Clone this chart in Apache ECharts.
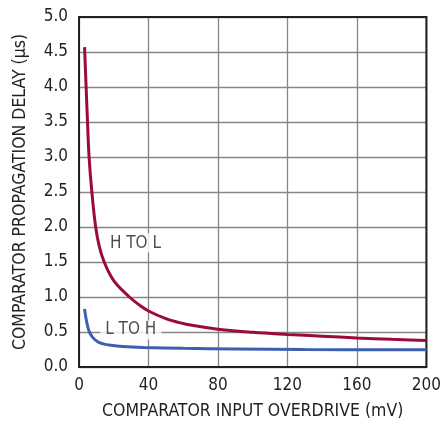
<!DOCTYPE html>
<html>
<head>
<meta charset="utf-8">
<script src="https://cdn.jsdelivr.net/npm/echarts@6/dist/echarts.min.js"></script>
<style>
html,body{margin:0;padding:0;background:#fff;}
#chart{width:444px;height:425px;}
</style>
</head>
<body>
<div id="chart"></div>
<script>
// H TO L curve (overdrive mV, delay µs)
var hToLX = [3.2, 4.1, 4.9, 5.8, 7.4, 9.6, 11.7, 14.5, 18.3, 22, 29, 35, 40, 50, 57, 65, 80, 100, 120, 140, 160, 180, 200];
var hToLY = [4.57, 4.0, 3.5, 3.0, 2.5, 2.0, 1.72, 1.5, 1.3, 1.17, 1.0, 0.88, 0.8, 0.69, 0.64, 0.595, 0.54, 0.495, 0.465, 0.44, 0.415, 0.395, 0.38];
// L TO H curve
var lToHX = [3.2, 4, 5, 6, 8, 10.8, 14, 18.3, 25, 37, 60, 90, 130, 200];
var lToHY = [0.83, 0.7, 0.58, 0.5, 0.42, 0.36, 0.33, 0.31, 0.293, 0.28, 0.268, 0.258, 0.25, 0.245];
// curve labels
var curveLabels = ["H TO L", "L TO H"];
var labelX = [32.5, 29.8];
var labelY = [1.77, 0.53];
// axes
var xTicks = [0, 40, 80, 120, 160, 200];
var yTicks = [0, 0.5, 1.0, 1.5, 2.0, 2.5, 3.0, 3.5, 4.0, 4.5, 5.0];
var xTitle = "COMPARATOR INPUT OVERDRIVE (mV)";
var yTitle = "COMPARATOR PROPAGATION DELAY (µs)";

function zip(a, b) { return a.map(function (v, i) { return [v, b[i]]; }); }

var FONT = '"DejaVu Sans Condensed", "Liberation Sans Narrow", sans-serif';
var TXT = '#231f20';

var chart = echarts.init(document.getElementById('chart'), null, {renderer: 'canvas'});
chart.setOption({
  animation: false,
  backgroundColor: '#fff',
  grid: {left: 79, top: 17, right: 12, bottom: 57, show: true, borderColor: '#231f20', borderWidth: 2, backgroundColor: 'transparent', z: 3},
  xAxis: {
    type: 'value', min: xTicks[0], max: xTicks[xTicks.length - 1], interval: 40,
    name: xTitle, nameLocation: 'middle', nameGap: 35,
    nameTextStyle: {fontFamily: FONT, fontSize: 17.5, color: TXT},
    axisLine: {show: false}, axisTick: {show: false},
    axisLabel: {fontFamily: FONT, fontSize: 17, color: TXT, margin: 10},
    splitLine: {show: true, lineStyle: {color: '#868686', width: 1.3}}
  },
  yAxis: {
    type: 'value', min: yTicks[0], max: yTicks[yTicks.length - 1], interval: 0.5,
    name: yTitle, nameLocation: 'middle', nameGap: 50,
    nameTextStyle: {fontFamily: FONT, fontSize: 17.5, color: TXT},
    axisLine: {show: false}, axisTick: {show: false},
    axisLabel: {fontFamily: FONT, fontSize: 17, color: TXT, margin: 11, formatter: function (v) { return v.toFixed(1); }},
    splitLine: {show: true, lineStyle: {color: '#868686', width: 1.3}}
  },
  series: [
    {
      type: 'line', data: zip(hToLX, hToLY), smooth: 0.4, showSymbol: false, z: 5,
      lineStyle: {color: '#9b0a3a', width: 3}
    },
    {
      type: 'line', data: zip(lToHX, lToHY), smooth: 0.4, showSymbol: false, z: 5,
      lineStyle: {color: '#3d5fb0', width: 3}
    },
    {
      type: 'scatter', symbolSize: 0, z: 4,
      data: curveLabels.map(function (t, i) { return {value: [labelX[i], labelY[i]], name: t}; }),
      label: {
        show: true, position: 'inside', formatter: function (p) { return p.name; },
        fontFamily: FONT, fontSize: 17, color: TXT, backgroundColor: '#fff',
        padding: [1, 5, 1, 5]
      }
    }
  ]
});
</script>
</body>
</html>
